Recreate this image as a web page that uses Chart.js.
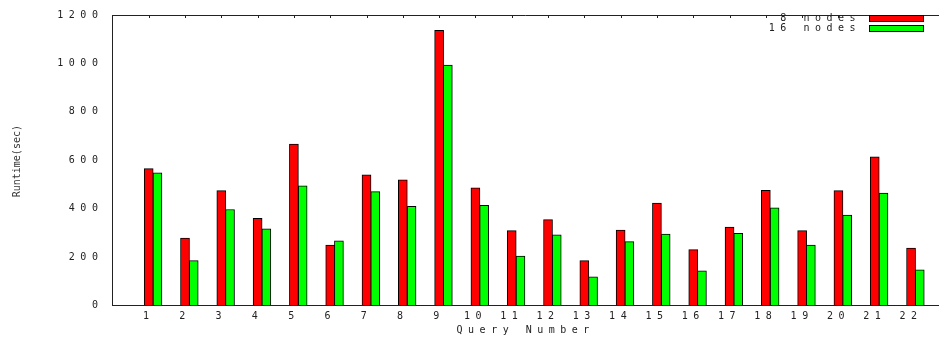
<!DOCTYPE html>
<html>
<head>
<meta charset="utf-8">
<script src="https://cdn.jsdelivr.net/npm/chart.js@4.4.1/dist/chart.umd.min.js"></script>
<style>
    html, body { margin: 0; padding: 0; background: #fff; }
    #wrap { position: relative; width: 939px; height: 338px; }
</style>
</head>
<body>
<div id="wrap"><canvas id="runtime_chart"></canvas></div>
<script>
var arrQueries = [1, 2, 3, 4, 5, 6, 7, 8, 9, 10, 11, 12, 13, 14, 15, 16, 17, 18, 19, 20, 21, 22];
var arrNodes8 = [565, 278, 474, 360, 666, 249, 539, 519, 1137, 486, 309, 354, 185, 311, 423, 230, 323, 475, 309, 474, 614, 237];
var arrNodes16 = [548, 185, 396, 316, 494, 267, 470, 409, 993, 413, 203, 291, 118, 263, 294, 143, 297, 403, 249, 373, 464, 147];
var arrSeriesLabels = ['8 nodes', '16 nodes'];
var arrYTicks = [0, 200, 400, 600, 800, 1000, 1200];
var strXTitle = 'Query Number';
var strYTitle = 'Runtime(sec)';

const strFont = "'DejaVu Sans Mono', monospace";
const strSpacing = '5.5px';

// gnuplot style frame: top border + small inward ticks
const framePlugin = {
    id: 'frame',
    beforeDraw(chart) {
        chart.ctx.letterSpacing = strSpacing;
    },
    afterDraw(chart) {
        const ctx = chart.ctx;
        const area = chart.chartArea;
        const xScale = chart.scales.x;
        ctx.save();
        ctx.strokeStyle = '#222';
        ctx.lineWidth = 1;
        ctx.beginPath();
        ctx.moveTo(area.left, area.top + 0.5);
        ctx.lineTo(area.right, area.top + 0.5);
        arrQueries.forEach(function (q) {
            const x = Math.round(xScale.getPixelForValue(q)) + 0.5;
            ctx.moveTo(x, area.top);
            ctx.lineTo(x, area.top + 3);
        });
        ctx.stroke();

        // y title, condensed without letter spacing
        ctx.letterSpacing = '0px';
        ctx.fillStyle = '#333';
        ctx.font = "10px " + strFont;
        ctx.textAlign = 'center';
        ctx.textBaseline = 'middle';
        ctx.translate(17, (area.top + area.bottom) / 2 + 1);
        ctx.rotate(-Math.PI / 2);
        ctx.fillText(strYTitle, 0, 0);
        ctx.restore();

        // legend: text on the left, box on the right
        ctx.save();
        ctx.letterSpacing = strSpacing;
        ctx.font = "10px " + strFont;
        ctx.textAlign = 'right';
        ctx.textBaseline = 'middle';
        chart.data.datasets.forEach(function (ds, i) {
            const y = 18 + i * 10;
            ctx.fillStyle = '#222';
            ctx.fillText(ds.label, 861, y);
            ctx.fillStyle = ds.backgroundColor;
            ctx.fillRect(869, y - 3, 54, 6);
            ctx.strokeStyle = '#000';
            ctx.strokeRect(869.5, y - 2.5, 54, 6);
        });
        ctx.restore();
    }
};

const ctx = document.getElementById('runtime_chart').getContext('2d');
new Chart(ctx, {
    type: 'bar',
    data: {
        datasets: [
            {
                label: arrSeriesLabels[0],
                data: arrQueries.map((q, i) => ({ x: q, y: arrNodes8[i] })),
                backgroundColor: '#ff0000',
                borderColor: '#000',
                borderWidth: 1
            },
            {
                label: arrSeriesLabels[1],
                data: arrQueries.map((q, i) => ({ x: q + 0.24, y: arrNodes16[i] })),
                backgroundColor: '#00ff00',
                borderColor: '#000',
                borderWidth: 1
            }
        ]
    },
    options: {
        animation: false,
        responsive: true,
        maintainAspectRatio: false,
        grouped: false,
        barThickness: 9,
        layout: { padding: { top: 11.7, right: 0, left: 0, bottom: 0 } },
        plugins: {
            legend: { display: false },
            tooltip: { enabled: false }
        },
        scales: {
            x: {
                type: 'linear',
                offset: false,
                min: 0,
                max: 22.77,
                grid: { display: false, drawTicks: false, offset: false },
                border: { display: true, color: '#222', width: 1 },
                afterFit: function (scale) { scale.height = 32.7; },
                afterBuildTicks: function (scale) {
                    scale.ticks = arrQueries.map(q => ({ value: q }));
                },
                ticks: {
                    autoSkip: false,
                    maxRotation: 0,
                    padding: 5,
                    color: '#222',
                    font: { family: strFont, size: 10 },
                    callback: v => String(v)
                },
                title: {
                    display: true,
                    text: strXTitle,
                    color: '#222',
                    padding: { top: 0, bottom: 2 },
                    font: { family: strFont, size: 10 }
                }
            },
            y: {
                min: 0,
                max: 1200,
                grid: { display: false, drawTicks: false },
                border: { display: true, color: '#222', width: 1 },
                afterFit: function (scale) { scale.width = 112.4; },
                afterBuildTicks: function (scale) {
                    scale.ticks = arrYTicks.map(v => ({ value: v }));
                },
                ticks: {
                    padding: 9,
                    color: '#222',
                    font: { family: strFont, size: 10 },
                    callback: v => String(v)
                }
            }
        }
    },
    plugins: [framePlugin]
});
</script>
</body>
</html>
